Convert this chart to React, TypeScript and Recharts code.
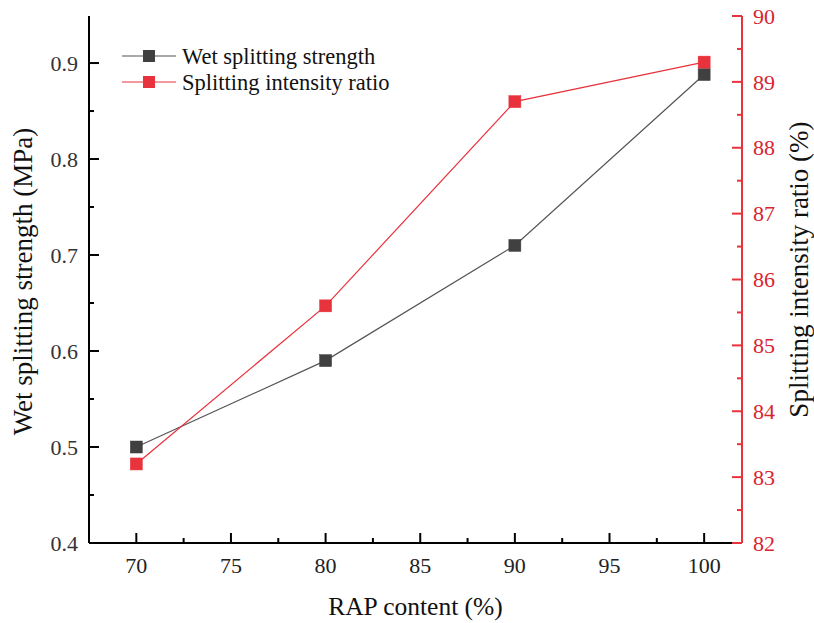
import { ComposedChart, Line, XAxis, YAxis } from 'recharts';

const rapContent = [70, 80, 90, 100];
const wetStrength = [0.5, 0.59, 0.71, 0.888];
const intensityRatio = [83.2, 85.6, 88.7, 89.3];

const xMajor = [70, 75, 80, 85, 90, 95, 100];
const xMinor = [72.5, 77.5, 82.5, 87.5, 92.5, 97.5];
const leftMajor = [0.4, 0.5, 0.6, 0.7, 0.8, 0.9];
const leftMinor = [0.45, 0.55, 0.65, 0.75, 0.85];
const rightMajor = [82, 83, 84, 85, 86, 87, 88, 89, 90];
const rightMinor = [82.5, 83.5, 84.5, 85.5, 86.5, 87.5, 88.5, 89.5];

const FONT = '"Times New Roman", "Liberation Serif", serif';
const DARK = '#404040';
const RED = '#e8323c';
const RED_TEXT = '#d8242e';

const data = rapContent.map((x, i) => ({
  rap: x,
  wet: wetStrength[i],
  ratio: intensityRatio[i],
}));

const sorted = (a: number[], b: number[]) => [...a, ...b].sort((p, q) => p - q);

function XTick({ x, y, payload }: any) {
  const major = xMajor.includes(payload.value);
  return (
    <g>
      <line x1={x} y1={y} x2={x} y2={y - (major ? 10 : 5)} stroke="#000" strokeWidth={2} />
      {major && (
        <text x={x} y={y + 30} textAnchor="middle" fontSize={22} fill="#222" style={{ fontFamily: FONT }}>
          {payload.value}
        </text>
      )}
    </g>
  );
}

function LeftTick({ x, y, payload }: any) {
  const major = leftMajor.some((v) => Math.abs(v - payload.value) < 1e-6);
  return (
    <g>
      <line x1={x} y1={y} x2={x + (major ? 10 : 5)} y2={y} stroke="#000" strokeWidth={2} />
      {major && (
        <text x={x - 11} y={y} dy="0.35em" textAnchor="end" fontSize={22} fill="#333" style={{ fontFamily: FONT }}>
          {payload.value.toFixed(1)}
        </text>
      )}
    </g>
  );
}

function RightTick({ x, y, payload }: any) {
  const major = rightMajor.includes(payload.value);
  return (
    <g>
      <line x1={x} y1={y} x2={x - (major ? 10 : 5)} y2={y} stroke={RED} strokeWidth={2} />
      {major && (
        <text x={x + 11} y={y} dy="0.35em" textAnchor="start" fontSize={22} fill={RED_TEXT} style={{ fontFamily: FONT }}>
          {payload.value}
        </text>
      )}
    </g>
  );
}

function SquareDot(color: string) {
  return ({ cx, cy, index }: any) => (
    <rect key={index} x={cx - 6} y={cy - 6} width={12} height={12} fill={color} stroke={color} strokeWidth={0.5} />
  );
}

const legendItems = [
  { label: 'Wet splitting strength', color: DARK, line: '#555' },
  { label: 'Splitting intensity ratio', color: RED, line: RED },
];

function LegendBox() {
  return (
    <svg width={340} height={60} style={{ position: 'absolute', left: 122, top: 42 }}>
      {legendItems.map((it, i) => (
        <g key={it.label} transform={`translate(0, ${14 + i * 26})`}>
          <line x1={0} y1={0} x2={54} y2={0} stroke={it.line} strokeWidth={1.2} />
          <rect x={21} y={-6} width={12} height={12} fill={it.color} />
          <text x={60} y={0} dy="0.35em" fontSize={22.5} fill="#111" style={{ fontFamily: FONT }}>
            {it.label}
          </text>
        </g>
      ))}
    </svg>
  );
}

export default function App() {
  return (
    <div style={{ position: 'fixed', left: 0, top: 0, width: 814, height: 623, background: '#fff' }}>
      <ComposedChart
        width={814}
        height={623}
        data={data}
        margin={{ top: 16, right: 0, bottom: 30, left: 0 }}
      >
        <XAxis
          xAxisId="bottom"
          dataKey="rap"
          type="number"
          domain={[67.5, 102]}
          ticks={sorted(xMajor, xMinor)}
          interval={0}
          allowDataOverflow
          tick={<XTick />}
          tickLine={false}
          tickSize={0}
          tickMargin={0}
          axisLine={{ stroke: '#000', strokeWidth: 2 }}
          height={50}
          label={{
            value: 'RAP content (%)',
            position: 'insideBottom',
            offset: -22,
            fontSize: 25.5,
            fill: '#111',
            style: { fontFamily: FONT },
          }}
        />
        <XAxis
          xAxisId="top"
          dataKey="rap"
          type="number"
          orientation="top"
          domain={[67.5, 102]}
          tick={false}
          tickLine={false}
          axisLine={{ stroke: '#000', strokeWidth: 2 }}
          height={0}
        />
        <YAxis
          yAxisId="left"
          type="number"
          domain={[0.4, 0.949]}
          ticks={sorted(leftMajor, leftMinor)}
          interval={0}
          allowDataOverflow
          tick={<LeftTick />}
          tickLine={false}
          tickSize={0}
          tickMargin={0}
          axisLine={{ stroke: '#000', strokeWidth: 2 }}
          width={89}
          label={{
            value: 'Wet splitting strength (MPa)',
            angle: -90,
            position: 'insideLeft',
            offset: 22,
            dy: 2,
            style: { textAnchor: 'middle', fontFamily: FONT },
            fontSize: 27,
            fill: '#111',
          }}
        />
        <YAxis
          yAxisId="right"
          orientation="right"
          type="number"
          domain={[82, 90]}
          ticks={sorted(rightMajor, rightMinor)}
          interval={0}
          allowDataOverflow
          tick={<RightTick />}
          tickLine={false}
          tickSize={0}
          tickMargin={0}
          axisLine={{ stroke: RED, strokeWidth: 2 }}
          width={72}
          label={{
            value: 'Splitting intensity ratio (%)',
            angle: -90,
            position: 'insideRight',
            offset: 16,
            dy: -10,
            style: { textAnchor: 'middle', fontFamily: FONT },
            fontSize: 27,
            fill: '#111',
          }}
        />
        <Line
          xAxisId="bottom"
          yAxisId="left"
          dataKey="wet"
          name="Wet splitting strength"
          type="linear"
          stroke="#555"
          strokeWidth={1.2}
          dot={SquareDot(DARK)}
          activeDot={false}
          isAnimationActive={false}
        />
        <Line
          xAxisId="bottom"
          yAxisId="right"
          dataKey="ratio"
          name="Splitting intensity ratio"
          type="linear"
          stroke={RED}
          strokeWidth={1.2}
          dot={SquareDot(RED)}
          activeDot={false}
          isAnimationActive={false}
        />
      </ComposedChart>
      <LegendBox />
    </div>
  );
}
